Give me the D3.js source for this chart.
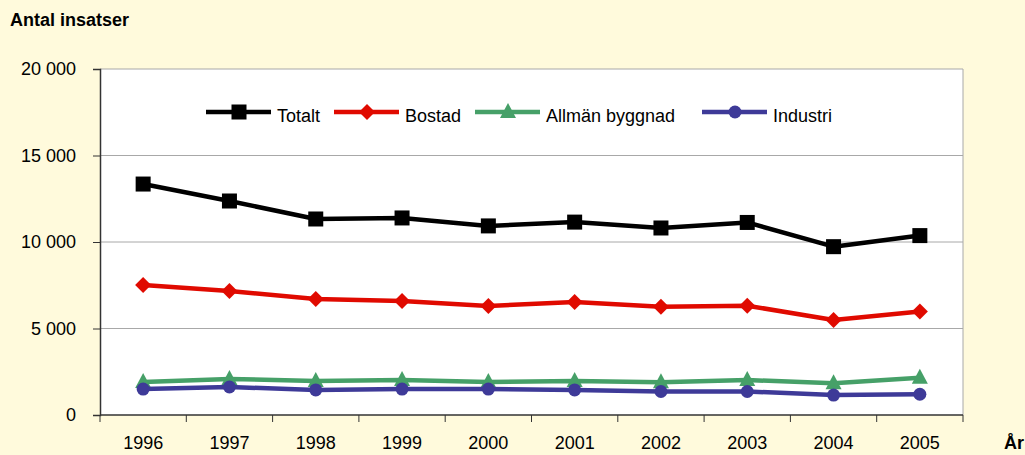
<!DOCTYPE html>
<html>
<head>
<meta charset="utf-8">
<script src="https://cdn.jsdelivr.net/npm/d3@7"></script>
<style>
  body { margin: 0; background: #FFFADC; }
  svg { display: block; font-family: "Liberation Sans", Arial, sans-serif; }
</style>
</head>
<body>
<svg id="chart"></svg>
<script>
const years = ['1996','1997','1998','1999','2000','2001','2002','2003','2004','2005'];
const yTicks = [0, 5000, 10000, 15000, 20000];
const totalt   = [13350, 12370, 11330, 11390, 10930, 11150, 10810, 11130, 9730, 10370];
const bostad   = [7510, 7170, 6700, 6590, 6300, 6530, 6260, 6320, 5490, 5980];
const allman   = [1910, 2080, 1970, 2020, 1910, 1960, 1890, 2020, 1830, 2160];
const industri = [1500, 1620, 1450, 1500, 1500, 1450, 1360, 1360, 1150, 1200];

const series = [
  { name: 'Totalt', values: totalt, color: '#000000', marker: 'square' },
  { name: 'Bostad', values: bostad, color: '#E00A00', marker: 'diamond' },
  { name: 'Allmän byggnad', values: allman, color: '#46A068', marker: 'triangle' },
  { name: 'Industri', values: industri, color: '#3E3A98', marker: 'circle' }
];

const W = 1025, H = 455;
const margin = { top: 69, left: 100, right: 62, bottom: 40 };
const width = W - margin.left - margin.right;
const height = H - margin.top - margin.bottom;

const svg = d3.select('#chart').attr('width', W).attr('height', H);
svg.append('rect').attr('width', W).attr('height', H).attr('fill', '#FFFADC');

const chart = svg.append('g').attr('transform', `translate(${margin.left},${margin.top})`);

const xScale = d3.scaleBand().domain(years).range([0, width]);
const yScale = d3.scaleLinear().domain([0, 20000]).range([height, 0]);

// plot background
chart.append('rect').attr('width', width).attr('height', height).attr('fill', '#fff');

// gridlines
chart.selectAll('.grid').data(yTicks.filter(d => d > 0)).join('line')
  .attr('x1', 0).attr('x2', width)
  .attr('y1', d => yScale(d)).attr('y2', d => yScale(d))
  .attr('stroke', '#A8A8A8').attr('stroke-width', 1);

// right border
chart.append('line').attr('x1', width).attr('x2', width).attr('y1', 0).attr('y2', height)
  .attr('stroke', '#A8A8A8');

const fmt = d => d3.format(',')(d).replace(',', ' ');

const yAxis = d3.axisLeft(yScale).tickValues(yTicks).tickSize(7).tickPadding(17).tickFormat(fmt);
const yAxisG = chart.append('g').call(yAxis);
yAxisG.select('.domain').attr('stroke', '#333').attr('stroke-width', 1.5);
yAxisG.selectAll('.tick line').attr('stroke', '#333');
yAxisG.selectAll('text').attr('font-size', 18).attr('fill', '#000').attr('font-family', 'Liberation Sans, Arial');

// x axis: ticks at band boundaries
const xAxisG = chart.append('g').attr('transform', `translate(0,${height})`);
xAxisG.append('line').attr('x1', 0).attr('x2', width).attr('stroke', '#333').attr('stroke-width', 1.5);
const bounds = d3.range(years.length + 1).map(i => i * xScale.step());
xAxisG.selectAll('.xt').data(bounds).join('line')
  .attr('x1', d => d).attr('x2', d => d).attr('y1', 0).attr('y2', 7)
  .attr('stroke', '#333');
xAxisG.selectAll('.xl').data(years).join('text')
  .attr('x', d => xScale(d) + xScale.bandwidth() / 2)
  .attr('y', 34)
  .attr('text-anchor', 'middle')
  .attr('font-size', 18)
  .text(d => d);

// lines
const line = d3.line()
  .x((d, i) => xScale(years[i]) + xScale.bandwidth() / 2)
  .y(d => yScale(d));

function drawMarker(g, type, color) {
  if (type === 'square') {
    g.append('rect').attr('x', -7.5).attr('y', -7.5).attr('width', 15).attr('height', 15).attr('fill', color);
  } else if (type === 'diamond') {
    g.append('path').attr('d', 'M0,-8L8,0L0,8L-8,0Z').attr('fill', color);
  } else if (type === 'triangle') {
    g.append('path').attr('d', 'M0,-9L8,6L-8,6Z').attr('fill', color);
  } else {
    g.append('circle').attr('r', 6.5).attr('fill', color);
  }
}

series.forEach(s => {
  chart.append('path')
    .datum(s.values)
    .attr('d', line)
    .attr('fill', 'none')
    .attr('stroke', s.color)
    .attr('stroke-width', 4.5)
    .attr('stroke-linejoin', 'round');
  s.values.forEach((v, i) => {
    const g = chart.append('g')
      .attr('transform', `translate(${xScale(years[i]) + xScale.bandwidth() / 2},${yScale(v)})`);
    drawMarker(g, s.marker, s.color);
  });
});

// legend
const legendX = [206, 334, 475, 702];
const legendY = 112;
series.forEach((s, i) => {
  const lg = svg.append('g').attr('transform', `translate(${legendX[i]},${legendY})`);
  lg.append('line').attr('x1', 0).attr('x2', 65).attr('stroke', s.color).attr('stroke-width', 4.5);
  const mg = lg.append('g').attr('transform', 'translate(33,0)');
  drawMarker(mg, s.marker, s.color);
  lg.append('text').attr('x', 71).attr('y', 10).attr('font-size', 18).text(s.name);
});

// titles
svg.append('text').attr('x', 10).attr('y', 26).attr('font-size', 18).attr('font-weight', 'bold')
  .text('Antal insatser');
svg.append('text').attr('x', 1004).attr('y', 449).attr('font-size', 18).attr('font-weight', 'bold')
  .text('År');
</script>
</body>
</html>
